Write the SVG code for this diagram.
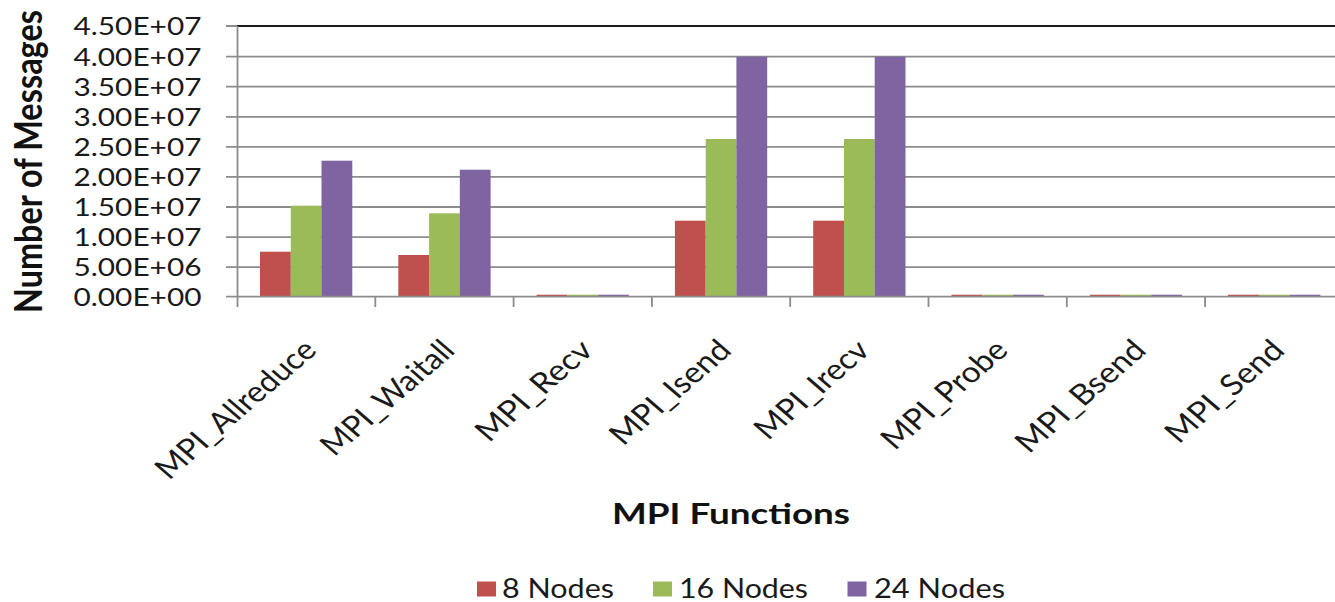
<svg xmlns="http://www.w3.org/2000/svg" width="1335" height="602" viewBox="0 0 1335 602">
  <style>
    .grid { stroke: #8c8c8c; stroke-width: 1.8; fill: none; }
    .border { stroke: #1a1a1a; stroke-width: 1.8; fill: none; }
    .tick { stroke: #8c8c8c; stroke-width: 1.8; fill: none; }
    .ylab { font-family: Lato, "Liberation Sans", sans-serif; font-size: 25px; fill: #1a1a1a; text-anchor: end; }
    .cat { font-family: Lato, "Liberation Sans", sans-serif; font-size: 29px; fill: #1a1a1a; text-anchor: end; }
    .title { font-family: Lato, "Liberation Sans", sans-serif; font-weight: bold; fill: #111; }
    .leg { font-family: Lato, "Liberation Sans", sans-serif; font-size: 27px; fill: #1a1a1a; }
    .s8 { fill: #C0504D; }
    .s16 { fill: #9BBB59; }
    .s24 { fill: #8064A2; }
  </style>
  <rect width="1335" height="602" fill="#ffffff"/>

  <!-- value gridlines -->
  <g id="gridlines">
    <line class="grid" x1="237" y1="56.6" x2="1335" y2="56.6"/>
    <line class="grid" x1="237" y1="86.7" x2="1335" y2="86.7"/>
    <line class="grid" x1="237" y1="116.8" x2="1335" y2="116.8"/>
    <line class="grid" x1="237" y1="146.9" x2="1335" y2="146.9"/>
    <line class="grid" x1="237" y1="176.9" x2="1335" y2="176.9"/>
    <line class="grid" x1="237" y1="207.0" x2="1335" y2="207.0"/>
    <line class="grid" x1="237" y1="237.1" x2="1335" y2="237.1"/>
    <line class="grid" x1="237" y1="267.1" x2="1335" y2="267.1"/>
    <line class="border" x1="237" y1="26" x2="1335" y2="26"/>
  </g>

  <!-- bars -->
  <g id="series-8-nodes" class="s8">
    <rect x="260.0" y="251.7" width="30.8" height="45.0"/>
    <rect x="398.3" y="255.0" width="30.8" height="41.7"/>
    <rect x="536.6" y="294.7" width="30.8" height="2"/>
    <rect x="674.9" y="220.7" width="30.8" height="76.0"/>
    <rect x="813.2" y="220.7" width="30.8" height="76.0"/>
    <rect x="951.5" y="294.7" width="30.8" height="2"/>
    <rect x="1089.8" y="294.7" width="30.8" height="2"/>
    <rect x="1228.1" y="294.7" width="30.8" height="2"/>
  </g>
  <g id="series-16-nodes" class="s16">
    <rect x="290.8" y="205.7" width="30.8" height="91.0"/>
    <rect x="429.1" y="213.3" width="30.8" height="83.4"/>
    <rect x="567.4" y="294.7" width="30.8" height="2"/>
    <rect x="705.7" y="139.0" width="30.8" height="157.7"/>
    <rect x="844.0" y="139.0" width="30.8" height="157.7"/>
    <rect x="982.3" y="294.7" width="30.8" height="2"/>
    <rect x="1120.6" y="294.7" width="30.8" height="2"/>
    <rect x="1258.9" y="294.7" width="30.8" height="2"/>
  </g>
  <g id="series-24-nodes" class="s24">
    <rect x="321.5" y="160.7" width="30.8" height="136.0"/>
    <rect x="459.8" y="169.7" width="30.8" height="127.0"/>
    <rect x="598.1" y="294.7" width="30.8" height="2"/>
    <rect x="736.4" y="56.7" width="30.8" height="240.0"/>
    <rect x="874.7" y="56.7" width="30.8" height="240.0"/>
    <rect x="1013.0" y="294.7" width="30.8" height="2"/>
    <rect x="1151.3" y="294.7" width="30.8" height="2"/>
    <rect x="1289.6" y="294.7" width="30.8" height="2"/>
  </g>

  <!-- axes and tick marks -->
  <g id="axes">
    <line class="tick" x1="237.5" y1="26" x2="237.5" y2="307"/>
    <line class="tick" x1="237" y1="296.7" x2="1335" y2="296.7"/>
    <path class="tick" d="M226 26H237M226 56.6H237M226 86.7H237M226 116.8H237M226 146.9H237M226 176.9H237M226 207H237M226 237.1H237M226 267.1H237M226 296.7H237"/>
    <path class="tick" d="M375.3 296.7V307M513.6 296.7V307M651.9 296.7V307M790.2 296.7V307M928.5 296.7V307M1066.8 296.7V307M1205.1 296.7V307"/>
  </g>

  <!-- value axis labels -->
  <g id="value-labels" class="ylab">
    <text x="201.5" y="34.9" textLength="128" lengthAdjust="spacingAndGlyphs">4.50E+07</text>
    <text x="201.5" y="65.5" textLength="128" lengthAdjust="spacingAndGlyphs">4.00E+07</text>
    <text x="201.5" y="95.6" textLength="128" lengthAdjust="spacingAndGlyphs">3.50E+07</text>
    <text x="201.5" y="125.7" textLength="128" lengthAdjust="spacingAndGlyphs">3.00E+07</text>
    <text x="201.5" y="155.8" textLength="128" lengthAdjust="spacingAndGlyphs">2.50E+07</text>
    <text x="201.5" y="185.8" textLength="128" lengthAdjust="spacingAndGlyphs">2.00E+07</text>
    <text x="201.5" y="215.9" textLength="128" lengthAdjust="spacingAndGlyphs">1.50E+07</text>
    <text x="201.5" y="246.0" textLength="128" lengthAdjust="spacingAndGlyphs">1.00E+07</text>
    <text x="201.5" y="276.0" textLength="128" lengthAdjust="spacingAndGlyphs">5.00E+06</text>
    <text x="201.5" y="305.6" textLength="128" lengthAdjust="spacingAndGlyphs">0.00E+00</text>
  </g>

  <!-- category labels, slanted -->
  <g id="category-labels" class="cat">
    <text transform="translate(318.2 352) scale(1.16 1) rotate(-45)" textLength="182" lengthAdjust="spacingAndGlyphs">MPI_Allreduce</text>
    <text transform="translate(456.5 352) scale(1.16 1) rotate(-45)" textLength="149" lengthAdjust="spacingAndGlyphs">MPI_Waitall</text>
    <text transform="translate(594.8 352) scale(1.16 1) rotate(-45)" textLength="129" lengthAdjust="spacingAndGlyphs">MPI_Recv</text>
    <text transform="translate(733.1 352) scale(1.16 1) rotate(-45)" textLength="134" lengthAdjust="spacingAndGlyphs">MPI_Isend</text>
    <text transform="translate(871.4 352) scale(1.16 1) rotate(-45)" textLength="126" lengthAdjust="spacingAndGlyphs">MPI_Irecv</text>
    <text transform="translate(1009.7 352) scale(1.16 1) rotate(-45)" textLength="140" lengthAdjust="spacingAndGlyphs">MPI_Probe</text>
    <text transform="translate(1148.0 352) scale(1.16 1) rotate(-45)" textLength="145" lengthAdjust="spacingAndGlyphs">MPI_Bsend</text>
    <text transform="translate(1286.3 352) scale(1.16 1) rotate(-45)" textLength="131" lengthAdjust="spacingAndGlyphs">MPI_Send</text>
  </g>

  <!-- axis titles -->
  <g id="axis-titles" class="title">
    <text transform="translate(42 161.5) scale(1.25 1) rotate(-90)" text-anchor="middle" font-size="30" textLength="303" lengthAdjust="spacingAndGlyphs">Number of Messages</text>
    <text x="612" y="523.5" font-size="29" textLength="238" lengthAdjust="spacingAndGlyphs">MPI Functions</text>
  </g>

  <!-- legend -->
  <g id="legend">
    <g id="legend-8">
      <rect class="s8" x="477" y="581.5" width="19" height="15"/>
      <text class="leg" x="502" y="597.5" textLength="112" lengthAdjust="spacingAndGlyphs">8 Nodes</text>
    </g>
    <g id="legend-16">
      <rect class="s16" x="653" y="581.5" width="19" height="15"/>
      <text class="leg" x="679" y="597.5" textLength="129" lengthAdjust="spacingAndGlyphs">16 Nodes</text>
    </g>
    <g id="legend-24">
      <rect class="s24" x="847.5" y="581.5" width="19" height="15"/>
      <text class="leg" x="874" y="597.5" textLength="131" lengthAdjust="spacingAndGlyphs">24 Nodes</text>
    </g>
  </g>
</svg>
